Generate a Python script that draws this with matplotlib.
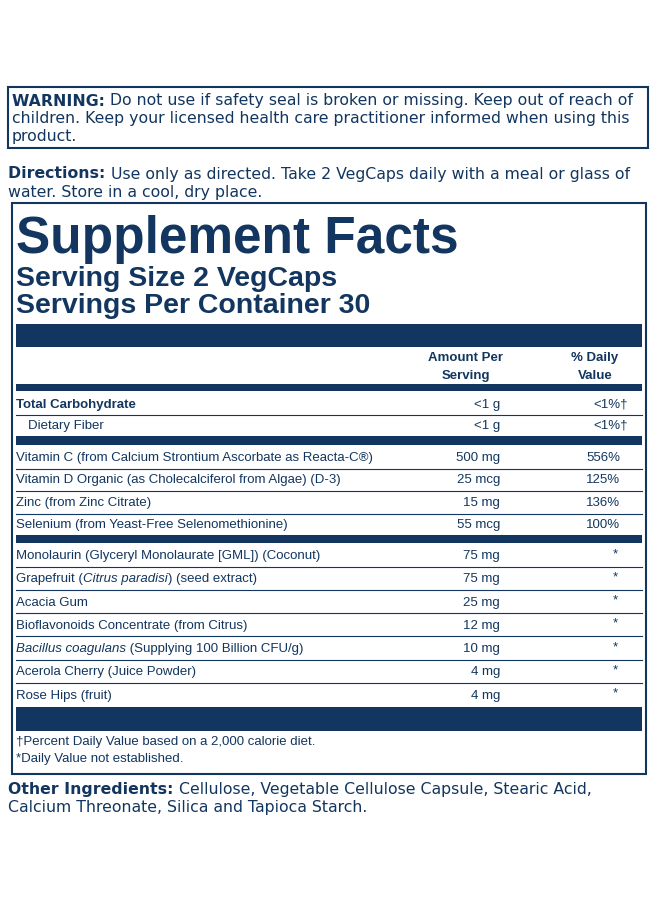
import matplotlib.pyplot as plt
from matplotlib.patches import Rectangle

navy = '#12365f'

warning = ["Do not use if safety seal is broken or missing. Keep out of reach of",
           "children. Keep your licensed health care practitioner informed when using this",
           "product."]
directions = ["Use only as directed. Take 2 VegCaps daily with a meal or glass of",
              "water. Store in a cool, dry place."]

carb_names = ["Total Carbohydrate", "Dietary Fiber"]
carb_amounts = ["<1 g", "<1 g"]
carb_dv = ["<1%\u2020", "<1%\u2020"]

vit_names = ["Vitamin C (from Calcium Strontium Ascorbate as Reacta-C\u00ae)",
             "Vitamin D Organic (as Cholecalciferol from Algae) (D-3)",
             "Zinc (from Zinc Citrate)",
             "Selenium (from Yeast-Free Selenomethionine)"]
vit_amounts = ["500 mg", "25 mcg", "15 mg", "55 mcg"]
vit_dv = ["556%", "125%", "136%", "100%"]

# (normal, italic, normal) pieces
other_names = [("Monolaurin (Glyceryl Monolaurate [GML]) (Coconut)", "", ""),
               ("Grapefruit (", "Citrus paradisi", ") (seed extract)"),
               ("Acacia Gum", "", ""),
               ("Bioflavonoids Concentrate (from Citrus)", "", ""),
               ("", "Bacillus coagulans", " (Supplying 100 Billion CFU/g)"),
               ("Acerola Cherry (Juice Powder)", "", ""),
               ("Rose Hips (fruit)", "", "")]
other_amounts = ["75 mg", "75 mg", "25 mg", "12 mg", "10 mg", "4 mg", "4 mg"]

footnotes = ["\u2020Percent Daily Value based on a 2,000 calorie diet.",
             "*Daily Value not established."]
other_ing = ["Cellulose, Vegetable Cellulose Capsule, Stearic Acid,",
             "Calcium Threonate, Silica and Tapioca Starch."]

fig = plt.figure(figsize=(6.6, 9.04), dpi=100)
ax = fig.add_axes([0, 0, 1, 1])
ax.set_xlim(0, 660)
ax.set_ylim(904, 0)
ax.axis('off')
renderer = fig.canvas.get_renderer()

def box(x0, y0, x1, y1, lw=1.5, fill=False):
    ax.add_patch(Rectangle((x0, y0), x1 - x0, y1 - y0, fill=fill,
                           facecolor=navy, edgecolor=navy, lw=lw))

def hline(y, lw=0.8):
    ax.plot([16, 642], [y, y], color=navy, lw=lw)

def runs(x, y, pieces, **kw):
    # draw text pieces one after another on the same line
    for s, extra in pieces:
        if not s:
            continue
        t = ax.text(x, y, s, **kw, **extra)
        x += t.get_window_extent(renderer).width  # 1 px == 1 data unit

body = dict(color=navy, fontfamily='DejaVu Sans', fontsize=11.3, va='center')
label = dict(color=navy, fontfamily='Liberation Sans', fontsize=9.5, va='center')
B = {'fontweight': 'bold'}
N = {}
I = {'fontstyle': 'italic'}

# warning
box(8, 88, 648, 149)
runs(12, 101, [("WARNING: ", B), (warning[0], N)], **body)
for i, line in enumerate(warning[1:]):
    ax.text(12, 119 + 18 * i, line, **body)

runs(8, 174, [("Directions: ", B), (directions[0], N)], **body)
ax.text(8, 192, directions[1], **body)

# supplement facts panel
box(12, 204, 646, 775, lw=1.5)
ax.text(16, 240, "Supplement Facts", color=navy, fontfamily='Liberation Sans',
        fontweight='bold', fontsize=37, va='center')
ax.text(16, 279, "Serving Size 2 VegCaps", color=navy, fontfamily='Liberation Sans',
        fontweight='bold', fontsize=20.5, va='center')
ax.text(16, 306, "Servings Per Container 30", color=navy, fontfamily='Liberation Sans',
        fontweight='bold', fontsize=20.5, va='center')
box(16, 325, 642, 348, lw=0, fill=True)

hdr = dict(label, fontweight='bold', ha='center')
ax.text(466, 358, "Amount Per", **hdr)
ax.text(466, 376, "Serving", **hdr)
ax.text(595, 358, "% Daily", **hdr)
ax.text(595, 376, "Value", **hdr)
box(16, 385, 642, 392, lw=0, fill=True)

xa, xd = 500, 628
y = 405
for i, (n, a, d) in enumerate(zip(carb_names, carb_amounts, carb_dv)):
    ax.text(16 if i == 0 else 28, y, n, fontweight='bold' if i == 0 else 'normal', **label)
    ax.text(xa, y, a, ha='right', **label)
    ax.text(xd, y, d, ha='right', **label)
    if i == 0:
        hline(y + 11)
    y += 21
box(16, 437, 642, 446, lw=0, fill=True)

y = 458
for i, (n, a, d) in enumerate(zip(vit_names, vit_amounts, vit_dv)):
    ax.text(16, y, n, **label)
    ax.text(xa, y, a, ha='right', **label)
    ax.text(xd - 8, y, d, ha='right', **label)
    if i < len(vit_names) - 1:
        hline(y + 11.5)
    y += 22.5
box(16, 536, 642, 544, lw=0, fill=True)

y = 556
for i, (n, a) in enumerate(zip(other_names, other_amounts)):
    runs(16, y, [(n[0], N), (n[1], I), (n[2], N)], **label)
    ax.text(xa, y, a, ha='right', **label)
    ax.text(615, y - 2, "*", ha='center', **label)
    if i < len(other_names) - 1:
        hline(y + 11.5)
    y += 23.3
box(16, 708, 642, 732, lw=0, fill=True)

ax.text(16, 742, footnotes[0], **label)
ax.text(16, 759, footnotes[1], **label)

runs(8, 790, [("Other Ingredients: ", B), (other_ing[0], N)], **body)
ax.text(8, 808, other_ing[1], **body)

fig.savefig('out.png', dpi=100, facecolor='white')
